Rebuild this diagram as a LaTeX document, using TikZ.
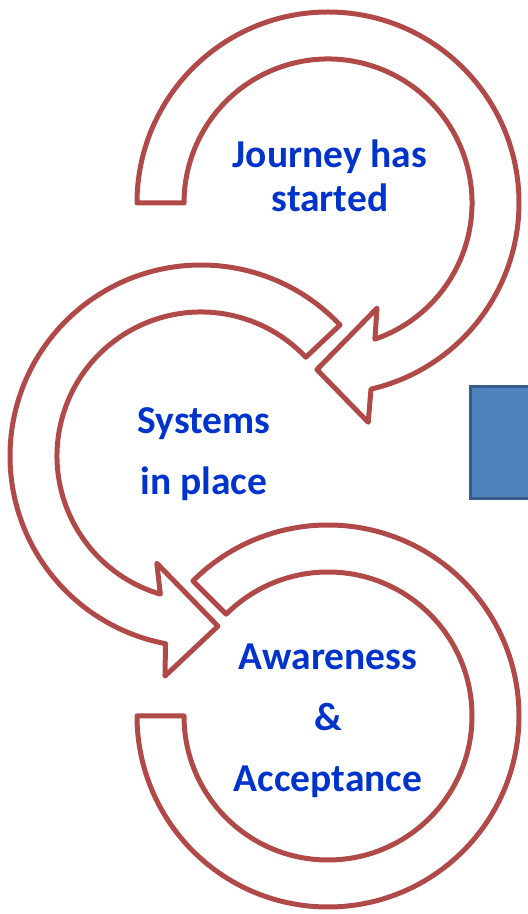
\documentclass[tikz,border=0pt]{standalone}
\usepackage{fontspec}
\setmainfont{Carlito}
\usetikzlibrary{positioning}
\definecolor{ringred}{RGB}{176,74,72}
\definecolor{textblue}{RGB}{0,51,204}
\definecolor{boxblue}{RGB}{79,129,189}
\definecolor{boxedge}{RGB}{56,93,138}
\begin{document}
\begin{tikzpicture}[x=1pt,y=1pt]
        \useasboundingbox (0,0) rectangle (528,914);
        \coordinate (c1) at (328,711);
        \coordinate (c2) at (201,458);
        \coordinate (c3) at (328,198);

        \begin{scope}[every path/.style={draw=ringred,line width=5pt,fill=white,line join=round}]
            \path ([shift={(180:191)}]c1) arc[start angle=180,end angle=-77,radius=191]
                -- ([shift={(-79.6:223)}]c1) -- ([shift={(-93.8:167)}]c1)
                -- ([shift={(-65:116)}]c1) -- ([shift={(-71:144)}]c1)
                arc[start angle=-71,end angle=180,radius=144] -- cycle;
            \path ([shift={(43.3:191)}]c2) arc[start angle=43.3,end angle=259.3,radius=191]
                -- ([shift={(260.7:223)}]c2) -- ([shift={(275.7:171)}]c2)
                -- ([shift={(247.6:116)}]c2) -- ([shift={(253.6:144)}]c2)
                arc[start angle=253.6,end angle=43.3,radius=144] -- cycle;
            \path ([shift={(135:191)}]c3) arc[start angle=135,end angle=-180,radius=191]
                -- ([shift={(180:144)}]c3)
                arc[start angle=-180,end angle=135,radius=144] -- cycle;
        \end{scope}

        \begin{scope}
            \clip (0,0) rectangle (528,914);
            \path [fill=boxblue,draw=boxedge,line width=3pt] (470,415) rectangle (545,527);
        \end{scope}

        \begin{scope}[every node/.style={text=textblue,align=center,
                    font=\bfseries\fontsize{39.5}{61}\selectfont}]
            \node (journey) at (330,738) [font=\bfseries\fontsize{39.5}{44}\selectfont] {Journey has\\started};
            \node (systems) at (204,460) {Systems\\in place};
            \node (awareness) at (328,193) {Awareness\\\&\\Acceptance};
        \end{scope}
    \end{tikzpicture}
\end{document}
